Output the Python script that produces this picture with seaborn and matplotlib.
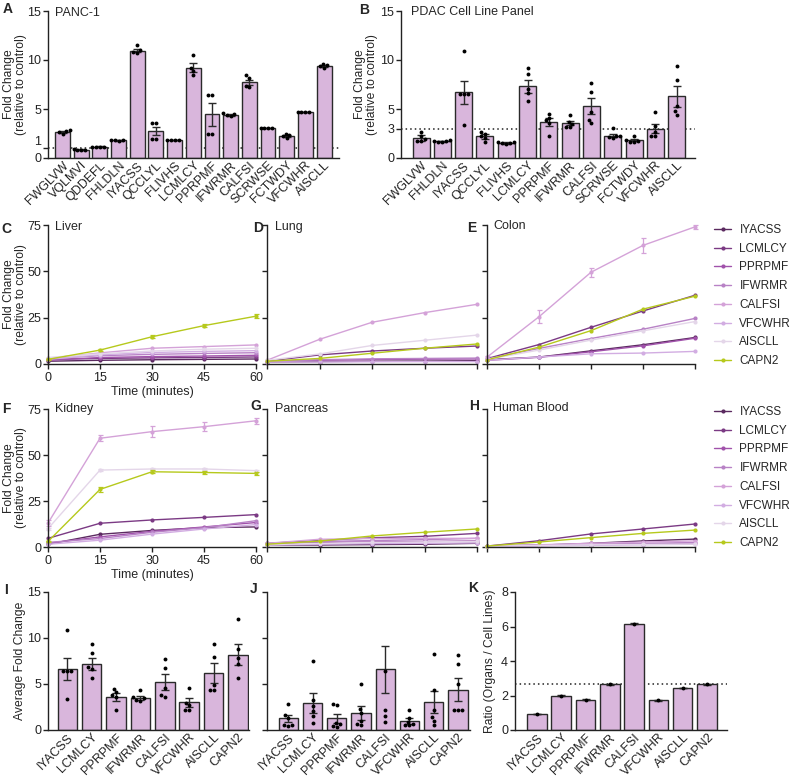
import numpy as np
import pandas as pd
import matplotlib
matplotlib.use("Agg")
import matplotlib.pyplot as plt
import seaborn as sns
from matplotlib.lines import Line2D

sns.set_style("ticks")
plt.rcParams["font.family"] = ["Liberation Sans", "DejaVu Sans"]
plt.rcParams.update({
    "axes.linewidth": 1.0, "axes.edgecolor": "#222222",
    "xtick.major.width": 1.0, "ytick.major.width": 1.0,
    "xtick.major.size": 3.5, "ytick.major.size": 3.5,
    "xtick.color": "#222222", "ytick.color": "#222222",
    "xtick.labelsize": 9, "ytick.labelsize": 9,
    "xtick.major.pad": 2, "ytick.major.pad": 1.5,
    "axes.labelsize": 8.7,
})

# ---------------- data ----------------
A_CATS = ["FWGLVW", "VQLMVI", "QDDEFL", "FHLDLN", "IYACSS", "QCCLYL", "FLIVHS", "LCMLCY",
          "PPRPMF", "IFWRMR", "CALFSI", "SCRWSE", "FCTWDY", "VFCWHR", "AISCLL"]
A_MEAN = [2.68, 0.85, 1.15, 1.8, 10.95, 2.72, 1.85, 9.2, 4.45, 4.4, 7.73, 3.08, 2.27, 4.68, 9.38]
A_SEM = [0.1, 0.03, 0.03, 0.03, 0.15, 0.4, 0.03, 0.45, 1.15, 0.1, 0.27, 0.02, 0.12, 0.02, 0.1]
A_PTS = [[2.5, 2.65, 2.75, 2.85], [0.82, 0.85, 0.85, 0.87], [1.13, 1.15, 1.15, 1.17],
         [1.78, 1.8, 1.8, 1.82], [10.7, 10.85, 11.0, 11.5], [3.55, 3.55, 1.93, 1.93],
         [1.84, 1.85, 1.85, 1.86], [10.5, 9.2, 8.9, 8.5], [2.5, 2.5, 6.4, 6.4],
         [4.25, 4.35, 4.45, 4.55], [8.47, 8.2, 7.35, 7.2], [3.07, 3.08, 3.08, 3.09],
         [2.05, 2.2, 2.35, 2.5], [4.67, 4.68, 4.68, 4.69], [9.2, 9.35, 9.45, 9.6]]

B_CATS = ["FWGLVW", "FHLDLN", "IYACSS", "QCCLYL", "FLIVHS", "LCMLCY", "PPRPMF", "IFWRMR",
          "CALFSI", "SCRWSE", "FCTWDY", "VFCWHR", "AISCLL"]
B_MEAN = [2.04, 1.7, 6.7, 2.2, 1.53, 7.3, 3.67, 3.56, 5.3, 2.27, 1.8, 3.0, 6.28]
B_SEM = [0.3, 0.06, 1.2, 0.25, 0.1, 0.65, 0.4, 0.22, 0.85, 0.15, 0.1, 0.45, 1.05]
B_PTS = [[2.7, 2.2, 1.9, 1.7, 1.7], [1.6, 1.65, 1.7, 1.75, 1.8], [10.96, 6.5, 6.5, 6.5, 3.4],
         [2.7, 2.5, 2.2, 2.0, 1.6], [1.4, 1.5, 1.5, 1.6, 1.65], [9.2, 8.6, 7.05, 6.6, 5.8],
         [4.5, 4.1, 3.85, 3.6, 2.27], [4.4, 3.7, 3.5, 3.2, 3.15], [7.7, 6.7, 4.7, 3.9, 3.6],
         [3.05, 2.2, 2.2, 2.1, 2.0], [2.27, 1.8, 1.75, 1.65, 1.6], [4.68, 3.3, 2.7, 2.2, 2.2],
         [9.4, 8.0, 5.26, 4.75, 4.4]]

SERIES = ["IYACSS", "LCMLCY", "PPRPMF", "IFWRMR", "CALFSI", "VFCWHR", "AISCLL", "CAPN2"]
COLORS = ["#5b2a60", "#7b3a84", "#a152ab", "#b882c6", "#d4a2d8", "#d2ade2", "#e4d6e9", "#b6c91c"]
TIMES = [0, 15, 30, 45, 60]

LIVER = [[1.5, 2.0, 2.3, 2.5, 2.7], [2.5, 3.0, 3.3, 3.5, 3.8], [2.0, 3.5, 4.0, 4.3, 4.7],
         [2.8, 4.5, 5.2, 5.7, 6.1], [3.0, 6.0, 8.5, 9.4, 10.3], [2.5, 5.0, 6.2, 6.8, 7.2],
         [3.5, 5.5, 7.0, 8.0, 8.5], [2.5, 7.5, 14.7, 20.7, 25.8]]
LUNG = [[1.0, 1.3, 1.5, 1.6, 1.8], [1.5, 4.9, 7.0, 8.5, 9.7], [1.2, 2.0, 2.4, 2.6, 2.7],
        [1.3, 2.3, 2.8, 3.0, 3.2], [2.0, 13.3, 22.5, 27.7, 32.2], [1.0, 1.1, 1.2, 1.3, 1.3],
        [2.0, 5.4, 10.0, 12.8, 15.6], [1.5, 3.0, 5.8, 8.5, 10.8]]
COLON = [[2.3, 3.75, 7.1, 10.4, 14.3], [2.9, 10.5, 19.8, 28.6, 37.1], [2.0, 3.6, 6.6, 9.8, 13.9],
         [2.7, 8.4, 13.75, 18.75, 24.6], [3.7, 25.5, 49.5, 64.0, 74.0], [2.0, 3.75, 5.5, 5.9, 6.8],
         [2.5, 7.5, 12.9, 17.9, 22.9], [2.3, 9.1, 18.0, 29.6, 36.6]]
KIDNEY = [[1.5, 6.9, 9.0, 10.5, 10.9], [4.7, 12.9, 14.7, 16.1, 17.6], [2.0, 5.5, 8.5, 10.9, 13.3],
          [2.5, 4.6, 8.0, 10.5, 14.3], [13.0, 59.1, 62.7, 65.4, 68.6], [1.5, 3.7, 7.0, 9.8, 12.2],
          [10.0, 41.8, 42.4, 42.4, 41.5], [3.0, 31.3, 40.9, 40.5, 40.0]]
PANCREAS = [[1.0, 1.1, 1.3, 1.5, 2.0], [2.0, 3.5, 5.0, 5.8, 7.4], [1.5, 2.5, 2.8, 3.0, 3.3],
            [1.5, 3.0, 3.5, 4.0, 4.7], [2.0, 4.2, 4.6, 4.7, 4.7], [1.0, 1.5, 1.8, 2.0, 2.2],
            [1.2, 2.0, 2.5, 2.8, 3.0], [1.5, 3.2, 6.0, 8.0, 9.8]]
BLOOD = [[0.5, 1.0, 2.0, 3.3, 4.3], [0.5, 3.4, 7.1, 9.8, 12.5], [0.4, 0.8, 1.2, 1.6, 2.0],
         [0.4, 0.9, 1.5, 2.0, 2.4], [0.5, 1.2, 2.0, 2.7, 3.3], [0.3, 0.6, 0.9, 1.2, 1.5],
         [0.4, 0.8, 1.2, 1.4, 1.6], [0.5, 2.7, 5.1, 7.4, 9.2]]

LIVER_SEM_CAPN2 = [0.3, 0.4, 0.7, 0.9, 1.2]
COLON_SEM_CALFSI = [0.5, 3.5, 2.5, 4.0, 1.0]
KIDNEY_SEM_CALFSI = [1.5, 1.5, 3.0, 2.5, 1.5]
KIDNEY_SEM_AISCLL = [0.5, 0.5, 0.8, 0.8, 0.6]
KIDNEY_SEM_CAPN2 = [0.3, 1.2, 0.8, 0.6, 0.6]

I_CATS = ["IYACSS", "LCMLCY", "PPRPMF", "IFWRMR", "CALFSI", "VFCWHR", "AISCLL", "CAPN2"]
I_MEAN = [6.6, 7.2, 3.6, 3.5, 5.2, 3.0, 6.2, 8.2]
I_SEM = [1.2, 0.65, 0.4, 0.22, 0.85, 0.45, 1.05, 1.1]
I_PTS = [[10.9, 6.4, 6.4, 6.4, 3.4], [9.3, 8.4, 6.8, 6.6, 5.7], [4.45, 4.1, 3.8, 3.6, 2.2],
         [4.3, 3.55, 3.45, 3.3, 3.2], [7.7, 6.7, 4.6, 3.8, 3.6], [4.6, 2.9, 2.7, 2.2, 2.2],
         [9.4, 7.9, 4.9, 4.3, 4.4], [12.1, 8.8, 7.8, 7.2, 5.6]]

J_MEAN = [1.26, 2.95, 1.27, 1.88, 6.6, 1.0, 3.0, 4.4]
J_SEM = [0.4, 1.1, 0.5, 0.75, 2.55, 0.3, 1.2, 1.2]
J_PTS = [[2.8, 1.6, 1.3, 0.55, 0.5, 0.45], [7.5, 3.3, 2.6, 2.1, 1.5, 0.8],
         [2.8, 2.75, 0.8, 0.6, 0.45, 0.35], [5.0, 2.3, 1.9, 1.0, 0.6, 0.5],
         [6.4, 2.2, 1.5, 0.9], [2.2, 1.3, 0.9, 0.6, 0.5, 0.5],
         [8.3, 4.3, 2.2, 1.4, 1.0, 0.5], [8.1, 7.2, 5.0, 2.2, 2.2, 2.2]]

K_RATIO = [0.92, 2.0, 1.76, 2.64, 6.17, 1.72, 2.43, 2.64]
K_REF = 2.64

BAR = "#d9b6dc"
EDGE = "#2a2a2a"
W, Hh = 790, 781

fig = plt.figure(figsize=(7.9, 7.81), dpi=100)


def add_ax(l, t, r, b):
    return fig.add_axes([l / W, 1 - b / Hh, (r - l) / W, (b - t) / Hh])


def ftext(x, y, s, **kw):
    fig.text(x / W, 1 - y / Hh, s, **kw)


def set_ylabel_px(ax, text, right_px, **kw):
    ax.set_ylabel(text, **kw)
    bb = ax.get_position()
    x0 = bb.x0 * W
    w = bb.width * W
    ax.yaxis.set_label_coords((right_px - x0) / w, 0.5)


def bar_panel(ax, cats, means, sems, pts, ymax, yticks, xlim, ref=None, ylabels=True, swarm=True):
    if ref is not None:
        ax.axhline(ref, ls=(0, (1, 2)), color="#222222", lw=1.1, zorder=0.5)
    sns.barplot(x=cats, y=means, order=cats, color=BAR, edgecolor=EDGE, linewidth=1.0,
                saturation=1, width=0.8, errorbar=None, ax=ax, zorder=2)
    ax.errorbar(np.arange(len(cats)), means, yerr=sems, fmt="none", ecolor=EDGE,
                elinewidth=1, capsize=3, capthick=1, zorder=3)
    dfp = pd.DataFrame([(c, v) for c, vs in zip(cats, pts) for v in vs], columns=["cat", "val"])
    if swarm:
        sns.swarmplot(data=dfp, x="cat", y="val", order=cats, color="black", size=2.8,
                      ax=ax, zorder=4)
    else:
        sns.stripplot(data=dfp, x="cat", y="val", order=cats, color="black", size=2.8,
                      jitter=False, ax=ax, zorder=4)
    ax.set_ylim(0, ymax)
    ax.set_xlim(*xlim)
    ax.set_yticks(yticks)
    if not ylabels:
        ax.set_yticklabels([])
    ax.set_xlabel("")
    ax.set_ylabel("")
    ax.tick_params(axis="x", length=0, pad=1)
    for lab in ax.get_xticklabels():
        lab.set_rotation(45)
        lab.set_ha("right")
        lab.set_rotation_mode("anchor")
    sns.despine(ax=ax)


def line_panel(ax, data, extra_sem, xlabels=False, ylabels=False):
    df = pd.DataFrame([(s, t, v) for s, vals in zip(SERIES, data) for t, v in zip(TIMES, vals)],
                      columns=["pep", "t", "fc"])
    sns.lineplot(data=df, x="t", y="fc", hue="pep", hue_order=SERIES, palette=COLORS,
                 marker="o", markersize=3, markeredgewidth=0, linewidth=1.0, errorbar=None,
                 legend=False, ax=ax, clip_on=False)
    for name, sem in extra_sem.items():
        i = SERIES.index(name)
        ax.errorbar(TIMES, data[i], yerr=sem, fmt="none", ecolor=COLORS[i], elinewidth=0.9,
                    capsize=1.8, capthick=0.9, clip_on=False)
    ax.set_xlim(0, 60)
    ax.set_ylim(0, 75)
    ax.set_xticks(TIMES)
    ax.set_yticks([0, 25, 50, 75])
    if not xlabels:
        ax.set_xticklabels([])
    if not ylabels:
        ax.set_yticklabels([])
    ax.set_xlabel("")
    ax.set_ylabel("")
    sns.despine(ax=ax)


axA = add_ax(48, 11, 339, 158)
axB = add_ax(401, 11, 695, 158)
axC = add_ax(48, 225, 256, 364)
axD = add_ax(267, 225, 477, 364)
axE = add_ax(487, 225, 695, 364)
axF = add_ax(48, 409, 256, 547)
axG = add_ax(267, 409, 477, 547)
axH = add_ax(487, 409, 695, 547)
axI = add_ax(48, 592, 249, 730)
axJ = add_ax(267, 592, 470, 730)
axK = add_ax(515, 592, 727, 730)

bar_panel(axA, A_CATS, A_MEAN, A_SEM, A_PTS, 15, [0, 1, 5, 10, 15], (-0.78, 14.8), ref=1)
bar_panel(axB, B_CATS, B_MEAN, B_SEM, B_PTS, 15, [0, 3, 5, 10, 15], (-0.94, 12.86), ref=3)
bar_panel(axI, I_CATS, I_MEAN, I_SEM, I_PTS, 15, [0, 5, 10, 15], (-0.79, 7.45))
bar_panel(axJ, I_CATS, J_MEAN, J_SEM, J_PTS, 15, [0, 5, 10, 15], (-0.88, 7.5), ylabels=False)
bar_panel(axK, I_CATS, K_RATIO, [0.02] * 8, [[v] for v in K_RATIO], 8, [0, 2, 4, 6, 8],
          (-0.9, 7.82), ref=K_REF, swarm=False)

# nudge the "1" label on panel A slightly up so it does not touch "0"
for lab in axA.get_yticklabels():
    if lab.get_text() == "1":
        lab.set_va("bottom")

line_panel(axC, LIVER, {"CAPN2": LIVER_SEM_CAPN2}, xlabels=True, ylabels=True)
line_panel(axD, LUNG, {})
line_panel(axE, COLON, {"CALFSI": COLON_SEM_CALFSI})
line_panel(axF, KIDNEY, {"CALFSI": KIDNEY_SEM_CALFSI, "AISCLL": KIDNEY_SEM_AISCLL,
                         "CAPN2": KIDNEY_SEM_CAPN2}, xlabels=True, ylabels=True)
line_panel(axG, PANCREAS, {})
line_panel(axH, BLOOD, {})

FC = "Fold Change\n(relative to control)"
set_ylabel_px(axA, FC, 27, linespacing=1.05)
set_ylabel_px(axB, FC, 378, linespacing=1.05)
set_ylabel_px(axC, FC, 27, linespacing=1.05)
set_ylabel_px(axF, FC, 27, linespacing=1.05)
set_ylabel_px(axI, "Average Fold Change", 26)
set_ylabel_px(axK, "Ratio (Organs / Cell Lines)", 496)
axC.set_xlabel("Time (minutes)", labelpad=2, fontsize=9)
axF.set_xlabel("Time (minutes)", labelpad=2, fontsize=9)

# panel letters
for s, x, y in [("A", 8, 9), ("B", 364, 10), ("C", 6, 229), ("D", 258, 228), ("E", 472, 228),
                ("F", 6, 409), ("G", 256, 406), ("H", 474, 406), ("I", 6, 590),
                ("J", 254, 589), ("K", 473, 588)]:
    ftext(x, y, s, fontsize=10, fontweight="bold", ha="center", va="center")

# titles
for s, x, y in [("PANC-1", 55, 13), ("PDAC Cell Line Panel", 411, 12), ("Liver", 55, 227),
                ("Lung", 275, 227), ("Colon", 493, 226), ("Kidney", 55, 409),
                ("Pancreas", 275, 409), ("Human Blood", 493, 408)]:
    ftext(x, y, s, fontsize=9, ha="left", va="center")

handles = [Line2D([0], [0], color=c, lw=1.0, marker="o", markersize=3, markeredgewidth=0)
           for c in COLORS]
for ytop in (224, 406):
    fig.legend(handles, SERIES, loc="upper left", bbox_to_anchor=(714 / W, 1 - ytop / Hh),
               frameon=False, fontsize=8.5, handlelength=1.45, handletextpad=0.7,
               labelspacing=0.57, borderpad=0, borderaxespad=0)

fig.savefig("out.png", dpi=100)
